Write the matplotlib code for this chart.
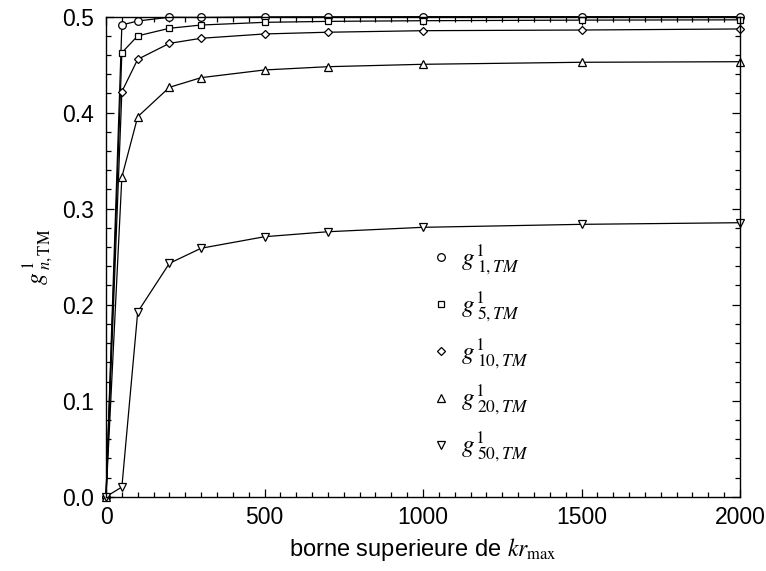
#!/usr/bin/env python
# -*- coding: utf-8 -*-

import matplotlib
matplotlib.use('Agg')
import matplotlib.pyplot as plt
from matplotlib.ticker import MultipleLocator, FormatStrFormatter

# Data
kr_max = [0, 50, 100, 200, 300, 500, 700, 1000, 1500, 2000]
g1  = [0.0, 0.4914, 0.4955, 0.4994, 0.4992, 0.4998, 0.4999, 0.5000, 0.5000, 0.5000]
g5  = [0.0, 0.4625, 0.4800, 0.4879, 0.4913, 0.4941, 0.4951, 0.4958, 0.4964, 0.4967]
g10 = [0.0, 0.4219, 0.4556, 0.4722, 0.4775, 0.4820, 0.4838, 0.4854, 0.4861, 0.4872]
g20 = [0.0, 0.3330, 0.3958, 0.4264, 0.4365, 0.4445, 0.4479, 0.4504, 0.4525, 0.4531]
g50 = [0.0, 0.0101, 0.1924, 0.2431, 0.2588, 0.2708, 0.2760, 0.2806, 0.2837, 0.2854]

series  = [g1, g5, g10, g20, g50]
markers = ['o', 's', 'D', '^', 'v']
sizes   = [5.5, 4.5, 4.2, 6, 6]
labels  = [r'$\mathit{g}^{\mathit{1}}_{\;\mathit{1,TM}}$',
           r'$\mathit{g}^{\mathit{1}}_{\;\mathit{5,TM}}$',
           r'$\mathit{g}^{\mathit{1}}_{\;\mathit{10,TM}}$',
           r'$\mathit{g}^{\mathit{1}}_{\;\mathit{20,TM}}$',
           r'$\mathit{g}^{\mathit{1}}_{\;\mathit{50,TM}}$']

plt.rcParams['font.family'] = ['Liberation Sans', 'DejaVu Sans']
plt.rcParams['mathtext.fontset'] = 'stix'

fig = plt.figure(figsize=(7.66, 5.71), dpi=100)
ax = fig.add_axes([0.1384, 0.1301, 0.8277, 0.8407])

for ys, m, ms, lab in zip(series, markers, sizes, labels):
    ax.plot(kr_max, ys, color='black', lw=0.9, marker=m, ms=ms,
            mfc='white', mec='black', mew=0.9, label=lab, clip_on=False)

ax.set_xlim(0, 2000)
ax.set_ylim(0, 0.5)
ax.xaxis.set_major_locator(MultipleLocator(500))
ax.xaxis.set_minor_locator(MultipleLocator(50))
ax.yaxis.set_major_locator(MultipleLocator(0.1))
ax.yaxis.set_minor_locator(MultipleLocator(0.02))
ax.yaxis.set_major_formatter(FormatStrFormatter('%.1f'))
ax.tick_params(which='both', direction='in', top=True, right=True,
               labelsize=16.5, width=0.9)
ax.tick_params(axis='x', pad=7)
ax.tick_params(axis='y', pad=9)
ax.tick_params(which='major', length=6)
ax.tick_params(which='minor', length=3.5)
for s in ax.spines.values():
    s.set_linewidth(1.0)

ax.set_xlabel(r'borne superieure de $kr_{\mathrm{max}}$', fontsize=17, labelpad=5)
ax.set_ylabel(r'$\mathit{g}^{\,\mathit{1}}_{\;n,\mathrm{TM}}$', fontsize=17, labelpad=4)

leg = ax.legend(loc='upper left', bbox_to_anchor=(0.508, 0.555), frameon=False,
                handlelength=0, handletextpad=0.8, labelspacing=0.5,
                numpoints=1, fontsize=18, borderpad=0)

fig.savefig('out.png', dpi=100)
